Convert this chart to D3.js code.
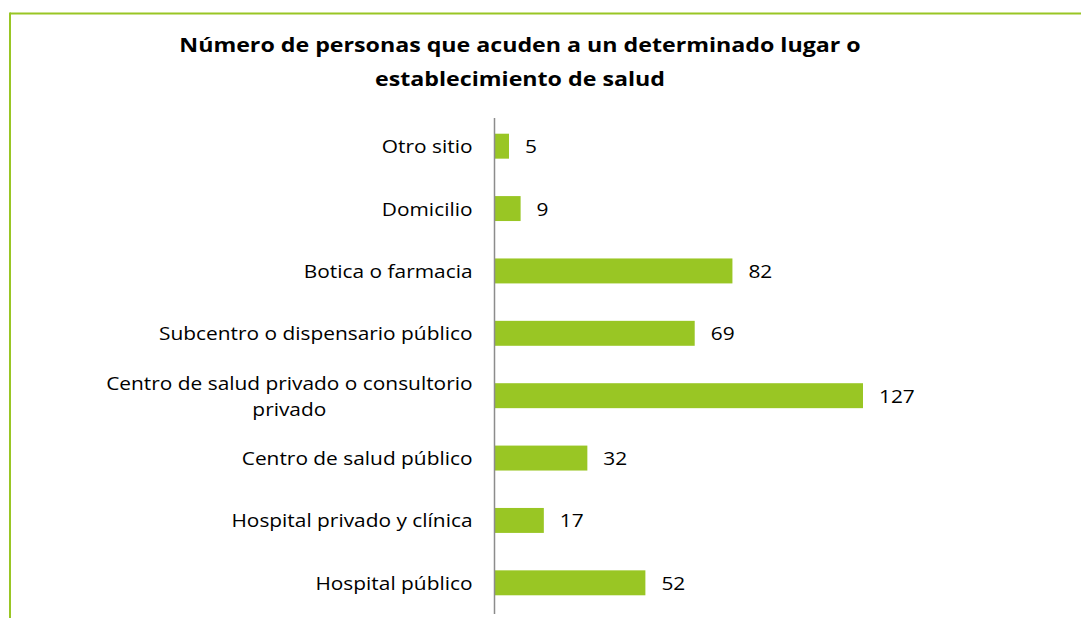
<!DOCTYPE html>
<html>
<head>
<meta charset="utf-8">
<script src="https://cdn.jsdelivr.net/npm/d3@7"></script>
<style>
  html, body { margin: 0; padding: 0; background: #fff; }
  svg { display: block; }
</style>
</head>
<body>
<svg id="chart" width="1081" height="618"></svg>
<script>
// Places people go to for health care, listed top to bottom
const categories = [
  "Otro sitio",
  "Domicilio",
  "Botica o farmacia",
  "Subcentro o dispensario público",
  "Centro de salud privado o consultorio privado",
  "Centro de salud público",
  "Hospital privado y clínica",
  "Hospital público"
];
const values = [5, 9, 82, 69, 127, 32, 17, 52];
const titleLines = [
  "Número de personas que acuden a un determinado lugar o",
  "establecimiento de salud"
];

const svg = d3.select("#chart");
const green = "#99c624";
const font = "'Open Sans', sans-serif";
const labelSize = 18;
const titleSize = 20;
const sx = 1.16;          // horizontal widening of the lettering
const labelGap = 22;      // space between category label and axis
const baselineShift = 7;  // label baseline below bar centre

// Outer frame: top and left edges only
svg.append("line").attr("x1", 10).attr("x2", 1081).attr("y1", 13.5).attr("y2", 13.5)
  .attr("stroke", green).attr("stroke-width", 2);
svg.append("line").attr("x1", 10).attr("x2", 10).attr("y1", 12.5).attr("y2", 618)
  .attr("stroke", green).attr("stroke-width", 2);

// Title
svg.append("g").selectAll("text").data(titleLines).join("text")
  .attr("transform", `scale(${sx},1)`)
  .attr("x", 520 / sx)
  .attr("y", (d, i) => 52.5 + i * 34)
  .attr("text-anchor", "middle")
  .attr("font-family", font)
  .attr("font-weight", "bold")
  .attr("font-size", titleSize)
  .attr("fill", "#000")
  .text(d => d);

const x0 = 494.5;
const x = d3.scaleLinear().domain([0, 127]).range([x0, 863]);
const y = d3.scaleBand().domain(categories).range([115, 614]).paddingInner(0.6).paddingOuter(0.3);

// Bars
svg.append("g").selectAll("rect").data(values).join("rect")
  .attr("x", x(0))
  .attr("y", (d, i) => y(categories[i]))
  .attr("width", d => x(d) - x(0))
  .attr("height", y.bandwidth())
  .attr("fill", green);

// Value labels
svg.append("g").selectAll("text").data(values).join("text")
  .attr("transform", `scale(${sx},1)`)
  .attr("x", d => (x(d) + 16) / sx)
  .attr("y", (d, i) => y(categories[i]) + y.bandwidth() / 2 + baselineShift)
  .attr("font-family", font)
  .attr("font-size", labelSize)
  .attr("fill", "#000")
  .text(d => d);

// Category axis
const axis = d3.axisLeft(y).tickSize(0).tickPadding(labelGap);
const gAxis = svg.append("g").attr("transform", `translate(${x0},0)`).call(axis);
gAxis.select(".domain").attr("stroke", "#8c8c8c").attr("stroke-width", 1.5)
  .attr("d", `M0,${118}V${614}`);
gAxis.selectAll(".tick text")
  .attr("transform", `scale(${sx},1)`)
  .attr("x", -labelGap / sx)
  .attr("dy", null)
  .attr("y", baselineShift)
  .attr("font-family", font)
  .attr("font-size", labelSize)
  .attr("fill", "#000");

// Long label wraps onto two centred lines
gAxis.selectAll(".tick text").each(function (d) {
  if (d !== "Centro de salud privado o consultorio privado") return;
  const t = d3.select(this);
  t.text(null).attr("y", null);
  const l1 = t.append("tspan").attr("x", -labelGap / sx).attr("y", -5.5)
    .text("Centro de salud privado o consultorio");
  const w = l1.node().getComputedTextLength();
  t.append("tspan").attr("x", -labelGap / sx - w / 2).attr("y", 20.5)
    .attr("text-anchor", "middle").text("privado");
});
</script>
</body>
</html>
